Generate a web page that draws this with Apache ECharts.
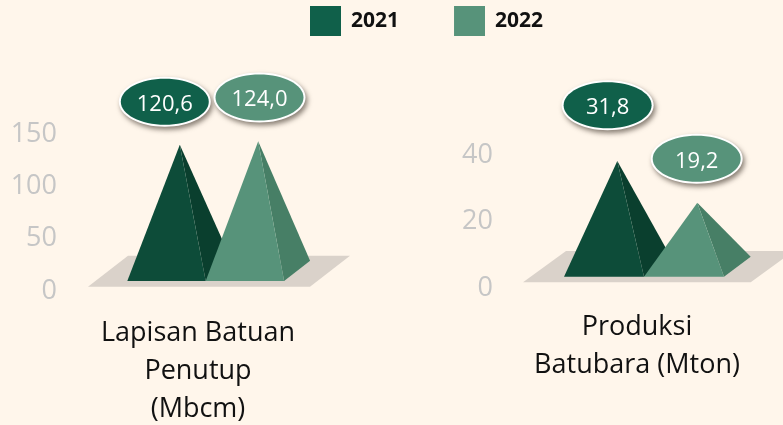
<!DOCTYPE html>
<html>
<head>
<meta charset="utf-8">
<style>
html,body{margin:0;padding:0;background:#FFF6EB;}
#main{width:783px;height:425px;}
</style>
<script src="https://cdn.jsdelivr.net/npm/echarts@6/dist/echarts.min.js"></script>
</head>
<body>
<div id="main"></div>
<script>
var years = ['2021', '2022'];
var overburdenName = ['Lapisan Batuan\nPenutup\n(Mbcm)'];
var overburdenValues = [120.6, 124.0];
var coalName = ['Produksi\nBatubara (Mton)'];
var coalValues = [31.8, 19.2];

var colors = {
	'2021': {front: '#0D4C39', side: '#0A3F2E', bubble: '#10604A'},
	'2022': {front: '#57937A', side: '#477F66', bubble: '#57937A'}
};

// pixel offsets of the fake 3D look, one set per chart
var shapes = [{
	junction: 7.7, halfBase: 39.2, base: 8, lift: 18, depthX: 26, depthY: 20.3, apexX: 13.3,
	floor: {front: 2.3, back: 33.3, left: -117.7, right: 104.3, skew: 40},
	bubbles: [[-15, -43], [1.3, -43.7]]
}, {
	junction: 7, halfBase: 40, base: 9.3, lift: 19.3, depthX: 26.7, depthY: 20, apexX: 13.3,
	floor: {front: 3.7, back: 35, left: -121, right: 106.7, skew: 43},
	bubbles: [[-9.7, -55.7], [-0.6, -44]]
}];

function poly(points, fill) {
	return {type: 'polygon', silent: true, shape: {points: points}, style: {fill: fill}};
}

function floorSeries(chart) {
	return {
		type: 'custom',
		xAxisIndex: chart,
		yAxisIndex: chart,
		silent: true,
		clip: false,
		data: [[0, 0]],
		renderItem: function (params, api) {
			var s = shapes[chart], f = s.floor;
			var p = api.coord([0, 0]);
			var cx = p[0] + s.junction;
			var front = p[1] - f.front;
			var back = p[1] - f.back;
			return poly([
				[cx + f.left, front],
				[cx + f.right, front],
				[cx + f.right + f.skew, back],
				[cx + f.left + f.skew, back]
			], '#DAD2CA');
		}
	};
}

function pyramidSeries(chart, yearIndex, values) {
	var year = years[yearIndex];
	var c = colors[year];
	return {
		name: year,
		type: 'custom',
		xAxisIndex: chart,
		yAxisIndex: chart,
		clip: false,
		itemStyle: {color: c.bubble},
		data: [[0, values[yearIndex]]],
		renderItem: function (params, api) {
			var s = shapes[chart];
			var val = api.value(1);
			var zero = api.coord([0, 0]);
			var top = api.coord([0, val]);
			var cx = zero[0] + s.junction + (yearIndex === 0 ? -s.halfBase : s.halfBase);
			var baseY = zero[1] - s.base;
			var apex = [cx + s.apexX, top[1] - s.lift];
			var l = [cx - s.halfBase, baseY];
			var r = [cx + s.halfBase, baseY];
			var b = [r[0] + s.depthX, baseY - s.depthY];
			var off = s.bubbles[yearIndex];
			var bx = apex[0] + off[0], by = apex[1] + off[1];
			return {
				type: 'group',
				children: [
					poly([apex, r, b], c.side),
					poly([apex, l, r], c.front),
					{
						type: 'ellipse',
						shape: {cx: bx, cy: by, rx: 46, ry: 25},
						style: {
							fill: '#fff',
							shadowColor: 'rgba(60,50,40,0.6)', shadowBlur: 5, shadowOffsetX: 2, shadowOffsetY: 3
						}
					},
					{
						type: 'ellipse',
						shape: {cx: bx, cy: by, rx: 44, ry: 23},
						style: {fill: c.bubble}
					},
					{
						type: 'text',
						style: {
							x: bx, y: by + 2.5, text: val.toFixed(1).replace('.', ','),
							fill: '#fff', font: '22px "Open Sans"', align: 'center', verticalAlign: 'middle'
						}
					}
				]
			};
		}
	};
}

function catAxis(idx, names, margin) {
	return {
		type: 'category',
		gridIndex: idx,
		data: names,
		axisLine: {show: false},
		axisTick: {show: false},
		axisLabel: {
			color: '#111', fontFamily: 'Open Sans', fontSize: 27, lineHeight: 38, margin: margin, interval: 0
		}
	};
}

function valAxis(idx, max, step) {
	return {
		type: 'value',
		gridIndex: idx,
		min: 0,
		max: max,
		interval: step,
		axisLine: {show: false},
		axisTick: {show: false},
		splitLine: {show: false},
		// short line box + top align pushes the digits 2px below the tick position
		axisLabel: {
			color: '#C6C6C6', fontFamily: 'Open Sans', fontSize: 27, margin: 7,
			verticalAlign: 'top', lineHeight: 4
		}
	};
}

var myChart = echarts.init(document.getElementById('main'));
var option = {
	backgroundColor: '#FFF6EB',
	animation: false,
	legend: {
		data: years,
		left: 305,
		top: 1,
		itemWidth: 31,
		itemHeight: 30,
		itemGap: 55,
		icon: 'rect',
		selectedMode: false,
		textStyle: {color: '#111', fontFamily: 'Open Sans', fontWeight: 'bold', fontSize: 21, padding: [2, 0, 0, 5]}
	},
	grid: [
		{left: 64, width: 268, top: 132, height: 157, outerBoundsMode: 'none'},
		{left: 500, width: 274, top: 153, height: 133, outerBoundsMode: 'none'}
	],
	xAxis: [catAxis(0, overburdenName, 25), catAxis(1, coalName, 22)],
	yAxis: [valAxis(0, 150, 50), valAxis(1, 40, 20)],
	series: [
		floorSeries(0),
		pyramidSeries(0, 0, overburdenValues),
		pyramidSeries(0, 1, overburdenValues),
		floorSeries(1),
		pyramidSeries(1, 0, coalValues),
		pyramidSeries(1, 1, coalValues)
	]
};
myChart.setOption(option);
</script>
</body>
</html>
